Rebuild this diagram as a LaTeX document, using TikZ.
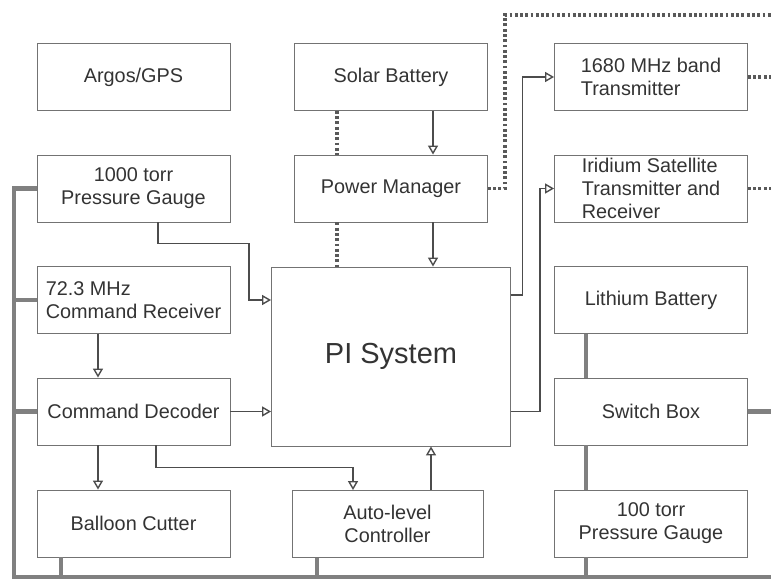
\documentclass[tikz,border=0pt]{standalone}
\usepackage{fontspec}
\setmainfont{Liberation Sans}
\usetikzlibrary{arrows.meta}

\begin{document}
\begin{tikzpicture}[
    blk/.style={draw=black!55, line width=0.5pt, text=black!80,
      minimum width=3.86cm, minimum height=1.34cm, align=center,
      font=\fontsize{11.3}{13.2}\selectfont},
    conn/.style={draw=black!70, line width=0.8pt,
      -{Triangle[open, length=1.8mm, width=2mm]}},
    bus/.style={draw=black!50, line width=2.4pt},
    pwr/.style={draw=black!65, line width=2pt, dash pattern=on 1.6pt off 1.4pt}
  ]
  \useasboundingbox (0,0) rectangle (15.42,11.6);
  % free ends at the border
  \coordinate (edge) at (15.42,11.3);
  \coordinate (busl) at (0.28,0.06);
  \coordinate (busr) at (15.42,0.06);
  % left column
  \node[blk] at (2.67,10.06) (argos) {Argos/GPS};
  \node[blk] at (2.67,7.83) (gauge) {1000 torr\\Pressure Gauge};
  \node[blk, align=left] at (2.67,5.6) (rcvr) {72.3 MHz\\Command Receiver};
  \node[blk] at (2.67,3.37) (decoder) {Command Decoder};
  \node[blk] at (2.67,1.13) (cutter) {Balloon Cutter};
  % middle column
  \node[blk] at (7.82,10.06) (solar) {Solar Battery};
  \node[blk] at (7.82,7.83) (pwrman) {Power Manager};
  \node[blk, minimum width=4.78cm, minimum height=3.58cm,
    font=\fontsize{16.5}{20}\selectfont] at (7.82,4.47) (pi) {PI System};
  \node[blk, minimum width=3.82cm] at (7.75,1.12) (autolvl) {Auto-level\\Controller};
  % right column
  \node[blk, align=left] at (13.02,10.06) (xmit) {1680 MHz band\\Transmitter};
  \node[blk, align=left, inner ysep=0pt] at (13.02,7.83) (iridium) {Iridium Satellite\\Transmitter and\\Receiver};
  \node[blk] at (13.02,5.6) (lithium) {Lithium Battery};
  \node[blk] at (13.02,3.37) (switch) {Switch Box};
  \node[blk] at (13.02,1.13) (gauge2) {100 torr\\Pressure Gauge};
  % signal lines
  \draw[conn] ([xshift=0.84cm]solar.south) -- ([xshift=0.84cm]pwrman.north);
  \draw[conn] ([xshift=0.84cm]pwrman.south) -- ([xshift=0.84cm]pi.north);
  \draw[conn] ([xshift=0.49cm]gauge.south) -- ++(0,-0.42) -- ++(1.82,0) |- (pi.west |- rcvr.east);
  \draw[conn] ([xshift=-0.71cm]rcvr.south) -- ([xshift=-0.71cm]decoder.north);
  \draw[conn] (decoder.east) -- (pi.west |- decoder.east);
  \draw[conn] ([xshift=-0.71cm]decoder.south) -- ([xshift=-0.71cm]cutter.north);
  \draw[conn] ([xshift=0.45cm]decoder.south) -- ++(0,-0.44) -| ([xshift=-0.69cm]autolvl.north);
  \draw[conn] ([xshift=0.87cm]autolvl.north) -- ([xshift=0.87cm]autolvl.north |- pi.south);
  \draw[conn] ([yshift=1.23cm]pi.east) -- ++(0.23,0) |- (xmit.west);
  \draw[conn] (pi.east |- decoder.east) -- ++(0.58,0) |- (iridium.west);
  % power lines
  \draw[pwr] ([xshift=-1.08cm]solar.south) -- ([xshift=-1.08cm]pwrman.north);
  \draw[pwr] ([xshift=-1.08cm]pwrman.south) -- ([xshift=-1.08cm]pi.north);
  \draw[pwr] (pwrman.east) -- ++(0.34,0) |- (edge);
  \draw[pwr] (xmit.east) -- (xmit.east -| edge);
  \draw[pwr] (iridium.east) -- (iridium.east -| edge);
  % bus
  \draw[bus] (gauge.west) -| (busl) -- (busr);
  \draw[bus] (rcvr.west) -- (rcvr.west -| busl);
  \draw[bus] (decoder.west) -- (decoder.west -| busl);
  \draw[bus] ([xshift=-1.45cm]cutter.south) -- ([xshift=-1.45cm]cutter.south |- busl);
  \draw[bus] ([xshift=-1.41cm]autolvl.south) -- ([xshift=-1.41cm]autolvl.south |- busl);
  \draw[bus] ([xshift=-1.3cm]gauge2.south) -- ([xshift=-1.3cm]gauge2.south |- busl);
  \draw[bus] ([xshift=-1.3cm]lithium.south) -- ([xshift=-1.3cm]switch.north);
  \draw[bus] ([xshift=-1.3cm]switch.south) -- ([xshift=-1.3cm]gauge2.north);
  \draw[bus] (switch.east) -- (switch.east -| busr);
\end{tikzpicture}
\end{document}
